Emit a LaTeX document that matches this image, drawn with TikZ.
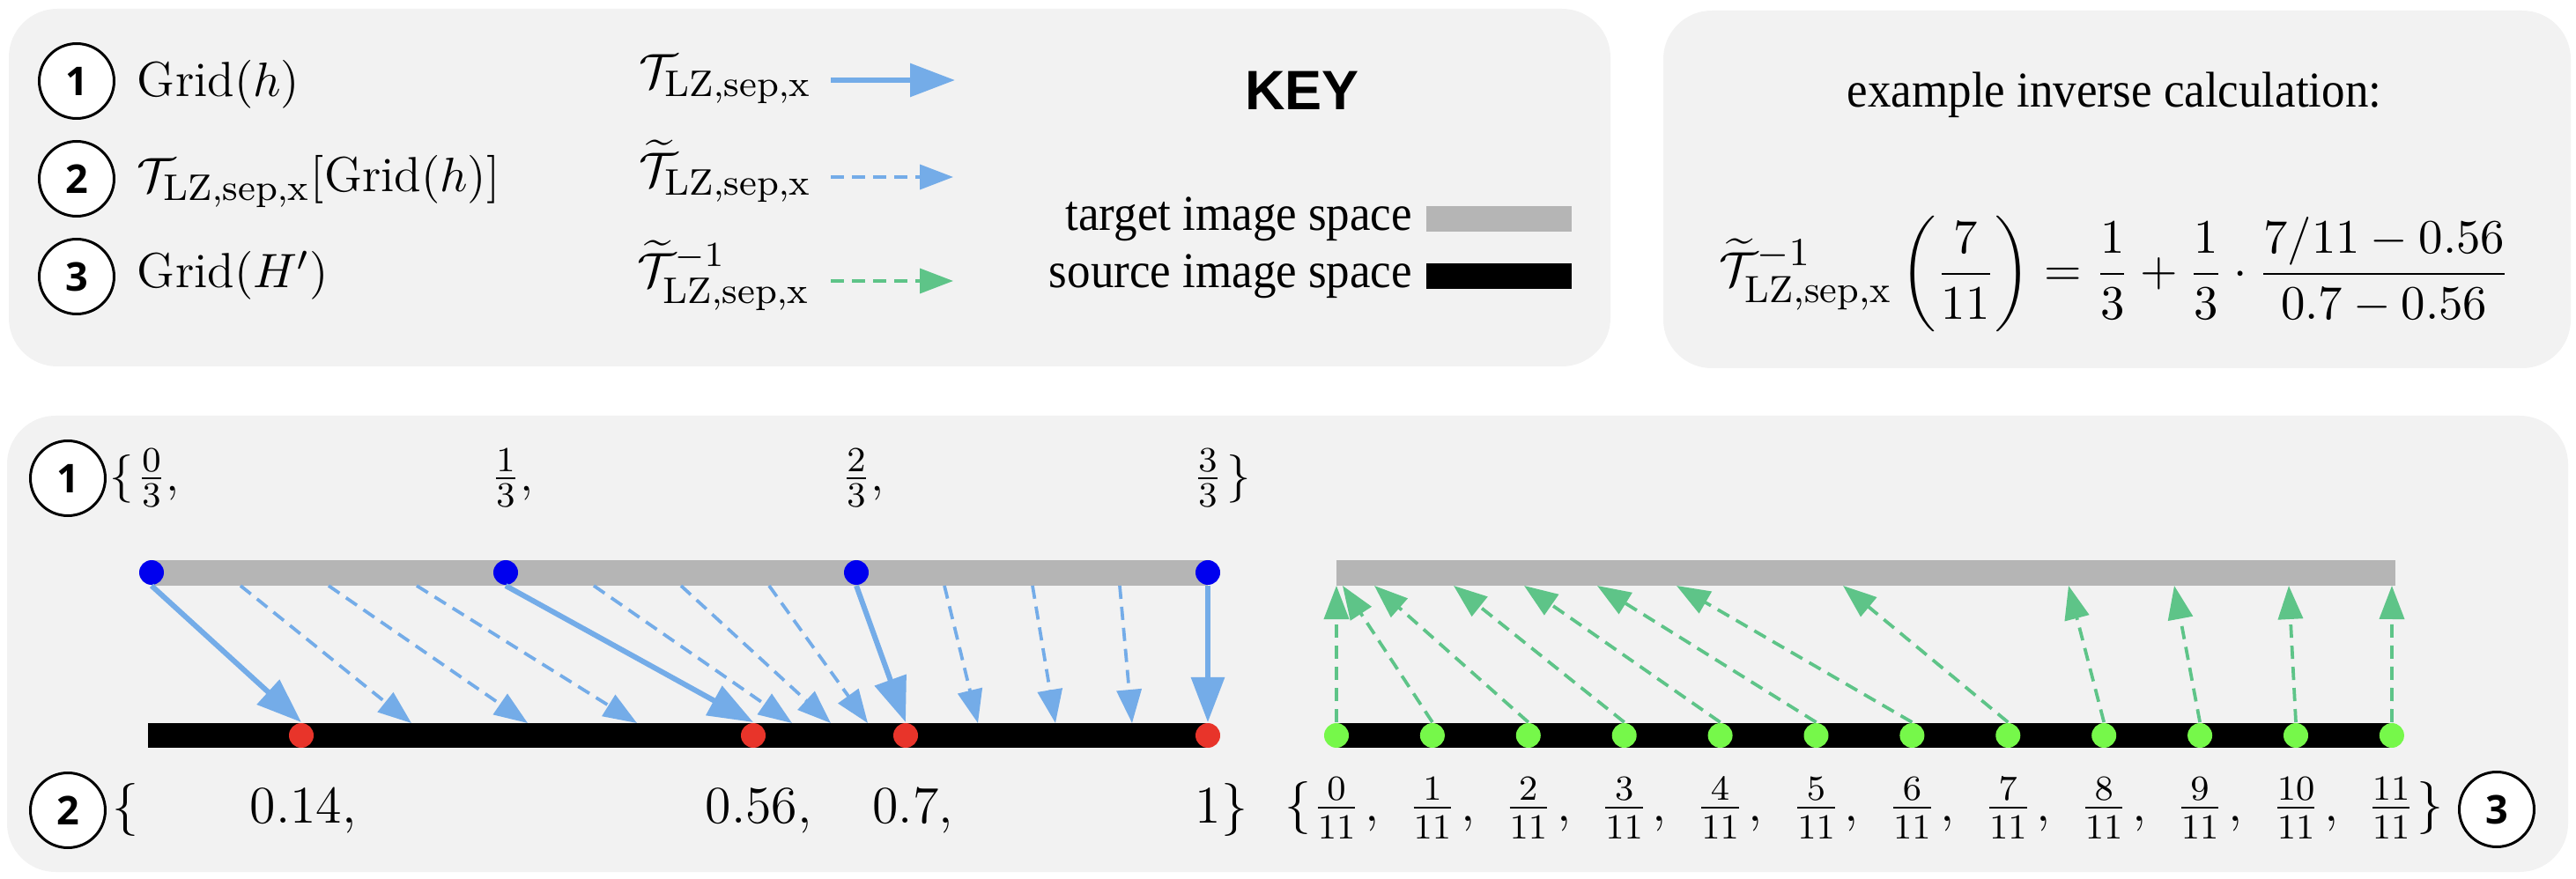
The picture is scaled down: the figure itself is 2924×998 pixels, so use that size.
\documentclass[tikz,border=0pt]{standalone}
\usepackage{fontspec}
\usepackage{amsmath}
\usepackage{graphicx}
\usetikzlibrary{arrows.meta}
\newfontfamily\tnr{Liberation Serif}
\newfontfamily\lsans{Liberation Sans}
\newfontfamily\osans{Open Sans}
\definecolor{panel}{HTML}{F2F2F2}
\definecolor{bluearrow}{HTML}{74ACE8}
\definecolor{greenarrow}{HTML}{5EC488}
\definecolor{graybarc}{HTML}{B5B5B5}
\definecolor{bdot}{HTML}{0000EE}
\definecolor{rdot}{HTML}{E8342A}
\definecolor{gdot}{HTML}{76F84A}
\DeclareMathSizes{11.2}{11.2}{8.4}{6}
\DeclareMathSizes{11.4}{11.4}{8.6}{6.2}
\newcommand{\cmk}{\fontsize{11.2}{13.5}\selectfont}
\newcommand{\cme}{\fontsize{11.4}{13.5}\selectfont}
\newcommand{\tms}[1]{\scalebox{0.93}[1]{\fontsize{11.4}{13.5}\selectfont\tnr #1}}
\begin{document}
\begin{tikzpicture}[x=0.2pt,y=-0.2pt,
  panelbox/.style={fill=panel, rounded corners=11pt},
  numcirc/.style={circle, draw=black, line width=0.6pt, fill=white, minimum size=17pt, inner sep=0pt, font=\osans\bfseries\fontsize{9}{10}\selectfont},
  dotb/.style={circle, fill=bdot, minimum size=5.6pt, inner sep=0pt},
  dotr/.style={circle, fill=rdot, minimum size=5.6pt, inner sep=0pt},
  dotg/.style={circle, fill=gdot, minimum size=5.6pt, inner sep=0pt},
  solidarr/.style={draw=bluearrow, line width=1.2pt, -{Triangle[length=10.2pt,width=7.4pt]}},
  dasharr/.style={draw=bluearrow, line width=0.75pt, dash pattern=on 3pt off 1.8pt, -{Triangle[length=7.6pt,width=5.6pt]}},
  greenarr/.style={dasharr, draw=greenarrow},
  lbl/.style={inner sep=0pt, anchor=base},
  lblw/.style={inner sep=0pt, anchor=base west},
  lble/.style={inner sep=0pt, anchor=base east}
]
\useasboundingbox (0,0) rectangle (2924,998);
% panels
\fill[panelbox] (10,10) rectangle (1828,416);
\fill[panelbox] (1888,12) rectangle (2918,418);
\fill[panelbox] (8,472) rectangle (2915,990);

% ---------- key panel ----------
\node[numcirc] (c1) at (87,92) {1};
\node[numcirc] (c2) at (87,203) {2};
\node[numcirc] (c3) at (87,314) {3};
\node[lblw] (g1) at (155,110) {\cmk$\mathrm{Grid}(h)$};
\node[lblw] (g2) at (155,218) {\cmk$\mathcal{T}_{\mathrm{LZ,sep,x}}[\mathrm{Grid}(h)]$};
\node[lblw] (g3) at (155,327) {\cmk$\mathrm{Grid}(H')$};

\node[lblw] (t1) at (724,100) {\cmk$\mathcal{T}_{\mathrm{LZ,sep,x}}$};
\node[lblw] (t2) at (724,212) {\cmk$\widetilde{\mathcal{T}}_{\mathrm{LZ,sep,x}}$};
\node[lblw] (t3) at (722,326) {\cmk$\widetilde{\mathcal{T}}^{-1}_{\mathrm{LZ,sep,x}}$};

\coordinate (a1s) at (943,91);  \coordinate (a1e) at (1084,91);
\coordinate (a2s) at (943,201); \coordinate (a2e) at (1082,201);
\coordinate (a3s) at (943,319); \coordinate (a3e) at (1082,319);
\draw[solidarr] (a1s) -- (a1e);
\draw[dasharr] (a2s) -- (a2e);
\draw[greenarr] (a3s) -- (a3e);

\node[lbl] (key) at (1478,125) {\lsans\bfseries\fontsize{12.6}{15}\selectfont KEY};
\node[lble] (tis) at (1604,262) {\tms{target image space}};
\node[lble] (sis) at (1604,327) {\tms{source image space}};
\fill[graybarc] (1619,234) rectangle (1784,263);
\fill[black] (1619,299) rectangle (1784,328);

% ---------- example panel ----------
\node[lbl] (ex) at (2400,122) {\tms{example inverse calculation:}};
\node[inner sep=0pt] (eq) at (2400,311) {\cme$\displaystyle \widetilde{\mathcal{T}}^{-1}_{\mathrm{LZ,sep,x}}\left(\frac{7}{11}\right)=\frac{1}{3}+\frac{1}{3}\cdot\frac{7/11-0.56}{0.7-0.56}$};

% ---------- bottom panel ----------
\node[numcirc] (n1) at (77,543) {1};
\node[numcirc] (n2) at (77,920) {2};
\node[numcirc] (n3) at (2834,919) {3};

\fill[graybarc] (172,636) rectangle (1371,665);
\fill[black] (168,821) rectangle (1371,849);
\fill[graybarc] (1517,636) rectangle (2719,665);
\fill[black] (1515,821) rectangle (2717,849);

% dots
\node[dotb] (b0) at (172,650) {};
\node[dotb] (b1) at (574,650) {};
\node[dotb] (b2) at (972,650) {};
\node[dotb] (b3) at (1371,650) {};
\node[dotr] (r0) at (342,835) {};
\node[dotr] (r1) at (855,835) {};
\node[dotr] (r2) at (1028,835) {};
\node[dotr] (r3) at (1371,835) {};
\foreach \k in {0,...,11} {
  \node[dotg] (g\k) at ({1517+108.9*\k},835) {};
}

% forward arrows
\draw[solidarr] (b0.south) -- (r0.north);
\draw[solidarr] (b1.south) -- (r1.north);
\draw[solidarr] (b2.south) -- (r2.north);
\draw[solidarr] (b3.south) -- (r3.north);
\foreach \i/\xs/\xe in {1/273/467,2/373/599,3/473/723,4/674/899,5/773/943,6/873/985,7/1072/1110,8/1172/1198,9/1271/1285} {
  \coordinate (ds\i) at (\xs,665);
  \coordinate (de\i) at (\xe,821);
  \draw[dasharr] (ds\i) -- (de\i);
}
% inverse arrows
\foreach \k/\xt in {0/1517,1/1524,2/1560,3/1650,4/1730,5/1813,6/1903,7/2092,8/2348,9/2468,10/2598,11/2715} {
  \coordinate (gt\k) at (\xt,665);
  \draw[greenarr] (g\k.north) -- (gt\k);
}

% labels row 1
\node[lbl] (lb1) at (138,557) {\fontsize{11}{13}\selectfont$\{$};
\node[lbl] (f0) at (172,557) {\fontsize{11}{13}\selectfont$\frac{0}{3}$\rlap{,}};
\node[lbl] (f1) at (574,557) {\fontsize{11}{13}\selectfont$\frac{1}{3}$\rlap{,}};
\node[lbl] (f2) at (972,557) {\fontsize{11}{13}\selectfont$\frac{2}{3}$\rlap{,}};
\node[lbl] (f3) at (1371,557) {\fontsize{11}{13}\selectfont$\frac{3}{3}$};
\node[lbl] (rb1) at (1406,557) {\fontsize{11}{13}\selectfont$\}$};

% labels row 2
\node[lbl] (lb2) at (142,934) {\fontsize{12}{14}\selectfont$\{$};
\node[lbl] (v0) at (336,934) {\fontsize{12}{14}\selectfont$0.14$\rlap{,}};
\node[lbl] (v1) at (853,934) {\fontsize{12}{14}\selectfont$0.56$\rlap{,}};
\node[lbl] (v2) at (1028,934) {\fontsize{12}{14}\selectfont$0.7$\rlap{,}};
\node[lbl] (v3) at (1371,934) {\fontsize{12}{14}\selectfont$1$};
\node[lbl] (rb2) at (1401,934) {\fontsize{12}{14}\selectfont$\}$};

% labels row 3
\node[lbl] (lb3) at (1473,932) {\fontsize{11.8}{14}\selectfont$\{$};
\foreach \k in {0,...,10} {
  \node[lbl] (h\k) at ({1517+108.9*\k},932) {\fontsize{11.8}{14}\selectfont$\frac{\k}{11}$\rlap{\kern1pt,}};
}
\node[lbl] (h11) at (2714,932) {\fontsize{11.8}{14}\selectfont$\frac{11}{11}$};
\node[lbl] (rb3) at (2758,932) {\fontsize{11.8}{14}\selectfont$\}$};
\end{tikzpicture}
\end{document}
